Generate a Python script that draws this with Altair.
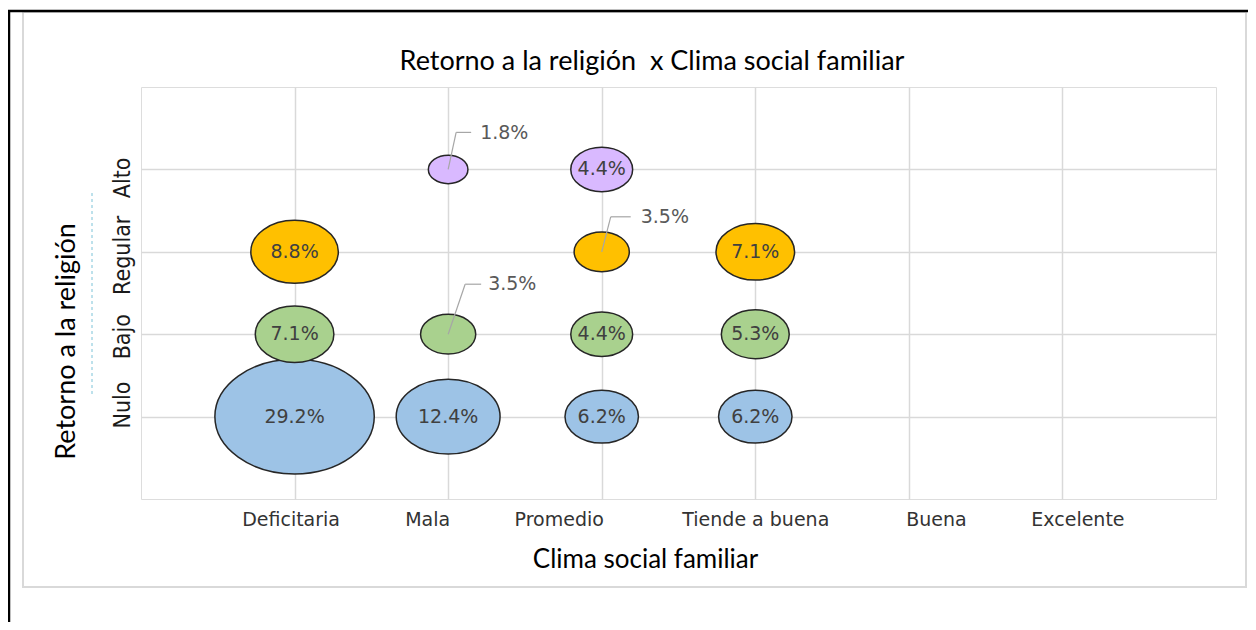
import altair as alt
import pandas as pd

# ---------------- data ----------------
clima = ["Deficitaria", "Mala", "Promedio", "Tiende a buena", "Buena", "Excelente"]
retorno = ["Nulo", "Bajo", "Regular", "Alto"]
nulo = [29.2, 12.4, 6.2, 6.2, None, None]
bajo = [7.1, 3.5, 4.4, 5.3, None, None]
regular = [8.8, None, 3.5, 7.1, None, None]
alto = [None, 1.8, 4.4, None, None, None]
# cells whose label sits outside the bubble with a leader line
callouts = [("Mala", "Alto"), ("Mala", "Bajo"), ("Promedio", "Regular")]
title_text = "Retorno a la religión \u00a0x Clima social familiar"

# ---------------- styling ----------------
colors = ["#9DC3E6", "#A9D18E", "#FFC000", "#D9B9FF"]
grid_gray = "#d9d9d9"
ellipse = "M-1,0A1,0.72,0,1,0,1,0A1,0.72,0,1,0,-1,0Z"
# leader geometry per callout: (corner dx, corner dy, end dx, label dx, label dy)
callout_style = {
    ("Mala", "Alto"): (8, -37, 23, 32, -36),
    ("Mala", "Bajo"): (17, -50, 33, 40, -50),
    ("Promedio", "Regular"): (9, -35, 29, 39, -35),
}
x_label_shift = {"Deficitaria": -4, "Mala": -21, "Promedio": -43,
                 "Tiende a buena": 0, "Buena": 27, "Excelente": 15}
y_label_shift = {"Nulo": -12, "Bajo": 2, "Regular": 3, "Alto": 8}

W, H = 1075, 412

rows = []
for level, series in zip(retorno, [nulo, bajo, regular, alto]):
    for c, v in zip(clima, series):
        if v is not None:
            rows.append({"clima": c, "retorno": level, "valor": v,
                         "label": f"{v:.1f}%",
                         "callout": (c, level) in callouts})
df = pd.DataFrame(rows)


def cond(shift):
    return {"condition": [{"test": f"datum.value == '{k}'", "value": v}
                          for k, v in shift.items() if v != 0],
            "value": 0}


x_enc = alt.X("clima:N",
              scale=alt.Scale(type="point", domain=clima, padding=1),
              axis=alt.Axis(title="Clima social familiar", labelAngle=0,
                            labelFont="DejaVu Sans", labelFontSize=19,
                            labelColor="#333333", labelPadding=11,
                            ticks=False, tickSize=0, domain=False,
                            grid=True, gridColor=grid_gray, gridWidth=1.5,
                            labelOffset=cond(x_label_shift),
                            titleFont="Lato", titleFontSize=26,
                            titleFontWeight="normal", titleColor="#000000",
                            titleX=504, titleY=60, titleAlign="center",
                            titleBaseline="middle"))
y_enc = alt.Y("retorno:N",
              scale=alt.Scale(type="point", domain=retorno[::-1], padding=1),
              axis=alt.Axis(title="Retorno a la religión", labelAngle=270,
                            labelAlign="center", labelBaseline="alphabetic",
                            labelFont="Liberation Sans Narrow, DejaVu Sans Condensed, sans-serif",
                            labelFontSize=23, labelColor="#1a1a1a",
                            labelPadding=12, ticks=False, tickSize=0,
                            domain=False, grid=True, gridColor=grid_gray,
                            gridWidth=1.5, labelOffset=cond(y_label_shift),
                            titleFont="Lato", titleFontSize=27,
                            titleFontWeight="normal", titleColor="#000000",
                            titleAngle=270, titleX=-75, titleY=254,
                            titleAlign="center", titleBaseline="middle"))

base = alt.Chart(df).encode(x=x_enc, y=y_enc)

bubbles = base.mark_point(filled=True, shape=ellipse, stroke="#262626",
                          strokeWidth=1.5, opacity=1).encode(
    size=alt.Size("valor:Q", scale=alt.Scale(type="linear", domain=[0, 30],
                                             range=[0, 870 * 30]), legend=None),
    color=alt.Color("retorno:N", scale=alt.Scale(domain=retorno, range=colors),
                    legend=None),
    order=alt.Order("valor:Q", sort="descending"),
)

inner_labels = base.mark_text(font="DejaVu Sans", fontSize=19,
                              color="#404040").encode(
    text="label:N").transform_filter("!datum.callout")

layers = [bubbles, inner_labels]
for (c, level), (cx, cy, ex, lx, ly) in callout_style.items():
    flt = f"datum.clima == '{c}' && datum.retorno == '{level}'"
    diag = base.mark_rule(color="#a6a6a6", strokeWidth=1.2,
                          x2Offset=cx, y2Offset=cy).encode(
        x2=alt.X2("clima"), y2=alt.Y2("retorno")).transform_filter(flt)
    horiz = base.mark_rule(color="#a6a6a6", strokeWidth=1.2,
                           xOffset=cx, yOffset=cy,
                           x2Offset=ex, y2Offset=cy).encode(
        x2=alt.X2("clima"), y2=alt.Y2("retorno")).transform_filter(flt)
    txt = base.mark_text(font="DejaVu Sans", fontSize=19, color="#595959",
                         align="left", baseline="middle", dx=lx, dy=ly).encode(
        text="label:N").transform_filter(flt)
    layers += [diag, horiz, txt]

# decorative frame of the original document and the chart title
one = alt.Data(values=[{"t": title_text}])
frame_gray = alt.Chart(one).mark_rect(fill=None, stroke=grid_gray, strokeWidth=2).encode(
    x=alt.value(-118), x2=alt.value(1105), y=alt.value(-75), y2=alt.value(500))
frame_top = alt.Chart(one).mark_rule(color="#000000", strokeWidth=2.5).encode(
    x=alt.value(-134), x2=alt.value(1110), y=alt.value(-76))
frame_left = alt.Chart(one).mark_rule(color="#000000", strokeWidth=2.5).encode(
    x=alt.value(-132), y=alt.value(-77), y2=alt.value(560))
dash_line = alt.Chart(one).mark_rule(color="#7cc3d8", strokeWidth=1,
                                     strokeDash=[3, 3]).encode(
    x=alt.value(-49), y=alt.value(106), y2=alt.value(310))
title = alt.Chart(one).mark_text(font="Lato", fontSize=27, color="#000000",
                                 align="center", baseline="middle").encode(
    x=alt.value(511), y=alt.value(-25), text="t:N")

chart = alt.layer(frame_gray, frame_top, frame_left, dash_line, title,
                  *layers).properties(
    width=W, height=H,
    padding={"left": 133, "top": 79, "right": 32, "bottom": 123},
    autosize=alt.AutoSizeParams(type="none"),
).configure_view(stroke=grid_gray, strokeWidth=1.5).configure(background="white")

chart.save("out.html", embed_options={"renderer": "svg", "actions": False})
